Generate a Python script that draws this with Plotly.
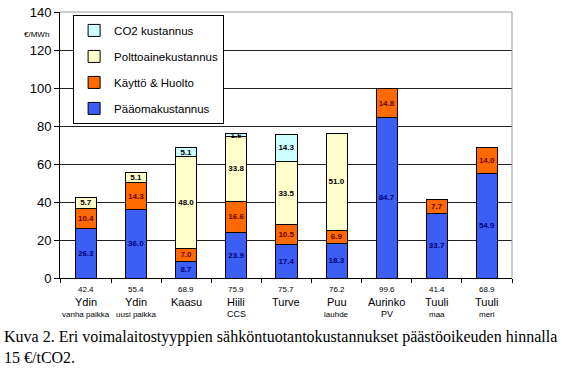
import plotly.graph_objects as go

categories = ["Ydin|vanha paikka", "Ydin|uusi paikka", "Kaasu|", "Hiili|CCS", "Turve|",
              "Puu|lauhde", "Aurinko|PV", "Tuuli|maa", "Tuuli|meri"]
names_main = ["Ydin", "Ydin", "Kaasu", "Hiili", "Turve", "Puu", "Aurinko", "Tuuli", "Tuuli"]
names_sub = ["vanha paikka", "uusi paikka", "", "CCS", "", "lauhde", "PV", "maa", "meri"]
totals = ["42.4", "55.4", "68.9", "75.9", "75.7", "76.2", "99.6", "41.4", "68.9"]

paaoma = [26.3, 36.0, 8.7, 23.9, 17.4, 18.3, 84.7, 33.7, 54.9]
kaytto = [10.4, 14.3, 7.0, 16.6, 10.5, 6.9, 14.8, 7.7, 14.0]
poltto = [5.7, 5.1, 48.0, 33.8, 33.5, 51.0, None, None, None]
co2 = [None, None, 5.1, 1.6, 14.3, None, None, None, None]

series = [
    ("Pääomakustannus", paaoma, "#3D5EF5", "#00007A", 4),
    ("Käyttö & Huolto", kaytto, "#FF6A00", "#6B0000", 3),
    ("Polttoainekustannus", poltto, "#FFFFCC", "#000000", 2),
    ("CO2 kustannus", co2, "#CCFFFF", "#000000", 1),
]

fig = go.Figure()
for i, (name, vals, col, tcol, rank) in enumerate(series):
    fig.add_trace(go.Bar(
        x=categories, y=vals, name=name, legendgroup=str(i), legendrank=rank,
        marker=dict(color=col, line=dict(color="#000000", width=1)),
        texttemplate="<b>%{y:.1f}</b>", textposition="inside",
        insidetextanchor="middle", textangle=0,
        textfont=dict(family="Liberation Sans, Arial", size=8, color=tcol),
    ))

fig.update_layout(
    width=562, height=370, barmode="stack", bargap=0.58,
    margin=dict(l=60, r=50, t=12, b=92),
    paper_bgcolor="white", plot_bgcolor="white",
    font=dict(family="Liberation Sans, Arial", color="#000"),
    showlegend=True,
    uniformtext=dict(minsize=8, mode="show"),
    legend=dict(x=0.029, y=0.989, xanchor="left", yanchor="top",
                traceorder="grouped", tracegroupgap=7,
                bgcolor="white", bordercolor="#000", borderwidth=1,
                font=dict(size=11.5), itemwidth=30),
    xaxis=dict(showticklabels=False, tickson="boundaries", ticks="outside",
               ticklen=4, tickcolor="#000", showline=True, linecolor="#000",
               showgrid=False),
    yaxis=dict(range=[0, 140], dtick=20, ticks="outside", ticklen=5,
               tickcolor="#000", showline=True, linecolor="#000",
               showgrid=True, gridcolor="#222", gridwidth=1,
               tickfont=dict(size=13), zeroline=False, automargin=False),
)

# plot border (top/right)
fig.add_shape(type="line", xref="paper", yref="paper", x0=0, x1=1, y0=1, y1=1,
              line=dict(color="#999", width=1))
fig.add_shape(type="line", xref="paper", yref="paper", x0=1, x1=1, y0=0, y1=1,
              line=dict(color="#999", width=1))

fig.add_annotation(text="€/MWh", xref="paper", yref="paper", x=-0.02, y=0.915,
                   xanchor="right", yanchor="middle", showarrow=False, font=dict(size=8))

for c, t, m, s in zip(categories, totals, names_main, names_sub):
    fig.add_annotation(x=c, y=0, yref="y", text=t, showarrow=False, yshift=-11,
                       font=dict(size=8))
    fig.add_annotation(x=c, y=0, yref="y", text=m, showarrow=False, yshift=-24,
                       font=dict(size=11))
    if s:
        fig.add_annotation(x=c, y=0, yref="y", text=s, showarrow=False, yshift=-36,
                           font=dict(size=8 if s not in ("CCS", "PV") else 9))

fig.add_annotation(
    text="Kuva 2. Eri voimalaitostyyppien sähköntuotantokustannukset päästöoikeuden hinnalla<br>15 €/tCO2.",
    xref="paper", yref="paper", x=-58/452, y=-0.18, xanchor="left", yanchor="top",
    align="left", showarrow=False,
    font=dict(family="Liberation Serif, Times New Roman", size=16, color="#000"))

fig.write_html("out.html", config={"displayModeBar": False},
               post_script="document.body.style.margin='0px';")
